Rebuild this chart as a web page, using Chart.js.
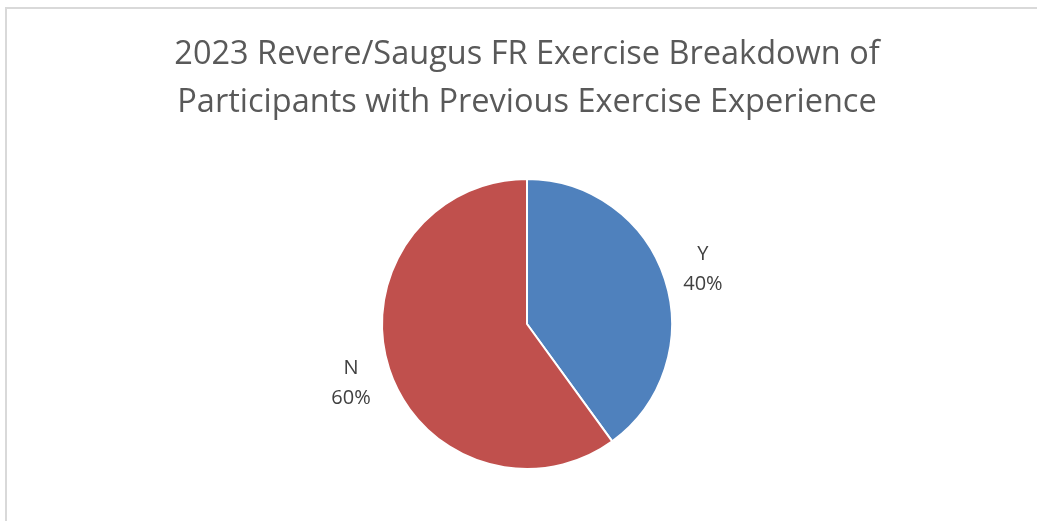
<!DOCTYPE html>
<html>
<head>
<meta charset="utf-8">
<script src="https://cdn.jsdelivr.net/npm/chart.js@4"></script>
<style>
html,body{margin:0;padding:0;background:#fff;overflow:hidden;}
#frame{position:absolute;left:5px;top:7px;width:1100px;height:600px;border:2px solid #d9d9d9;box-sizing:border-box;}
#wrap{position:absolute;left:0;top:0;width:1037px;height:521px;}
</style>
</head>
<body>
<div id="frame"></div>
<div id="wrap"><canvas id="c" width="1037" height="521"></canvas></div>
<script>
const titleLines = ["2023 Revere/Saugus FR Exercise Breakdown of", "Participants with Previous Exercise Experience"];
const categories = ["Y", "N"];
const values = [40, 60];
const colors = ["#4F81BD", "#C0504D"];

const labelPlugin = {
  id: 'outLabels',
  afterDatasetsDraw(chart) {
    const ctx = chart.ctx;
    const meta = chart.getDatasetMeta(0);
    const total = values.reduce((a, b) => a + b, 0);
    ctx.save();
    ctx.font = '20px "Open Sans"';
    ctx.fillStyle = '#404040';
    ctx.textAlign = 'center';
    ctx.textBaseline = 'middle';
    meta.data.forEach((arc, i) => {
      const p = arc.getProps(['x', 'y', 'startAngle', 'endAngle', 'outerRadius'], true);
      const mid = (p.startAngle + p.endAngle) / 2;
      const r = p.outerRadius + 40;
      const x = p.x + Math.cos(mid) * r;
      const y = p.y + Math.sin(mid) * r + 2;
      const pct = Math.round(values[i] / total * 100) + '%';
      ctx.fillText(categories[i], x, y - 15);
      ctx.fillText(pct, x, y + 15);
    });
    ctx.restore();
  }
};

new Chart(document.getElementById('c'), {
  type: 'pie',
  data: {
    labels: categories,
    datasets: [{
      data: values,
      backgroundColor: colors,
      borderColor: '#ffffff',
      borderWidth: 2,
      radius: 145
    }]
  },
  options: {
    responsive: false,
    animation: false,
    layout: { padding: { left: 17, right: 0, top: 0, bottom: 27 } },
    plugins: {
      legend: { display: false },
      tooltip: { enabled: false },
      title: {
        display: true,
        text: titleLines,
        color: '#595959',
        font: { family: '"Open Sans"', size: 32.5, weight: 'normal', lineHeight: 1.477 },
        padding: { top: 31, bottom: 27 }
      }
    }
  },
  plugins: [labelPlugin]
});
</script>
</body>
</html>
